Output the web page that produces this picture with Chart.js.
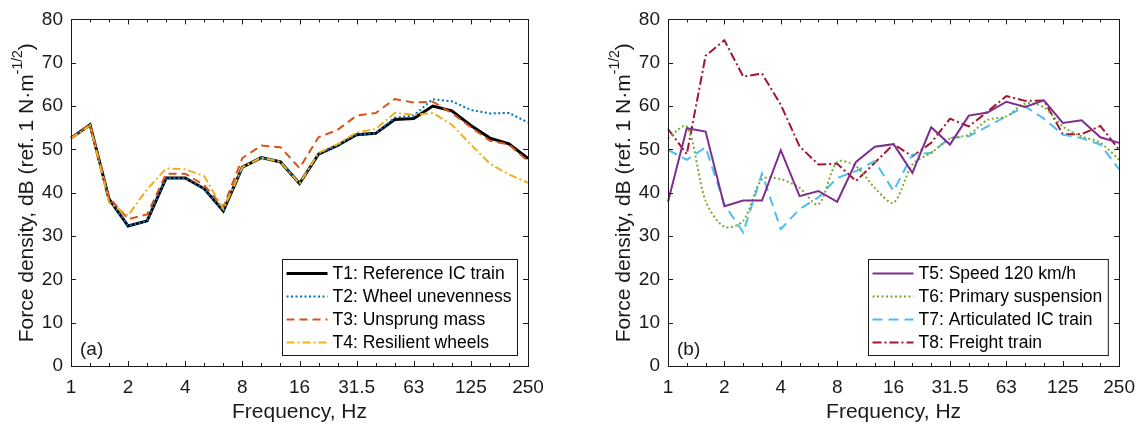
<!DOCTYPE html>
<html>
<head>
<meta charset="utf-8">
<script src="https://cdn.jsdelivr.net/npm/chart.js@4/dist/chart.umd.min.js"></script>
<style>
  body { margin: 0; background: #fff; }
  .panel { position: absolute; top: 0; height: 427px; }
</style>
</head>
<body>
<div class="panel" style="left:0;width:572px"><canvas id="chartA" width="572" height="427"></canvas></div>
<div class="panel" style="left:572px;width:573px"><canvas id="chartB" width="573" height="427"></canvas></div>
<script>
// one-third octave band centres, Hz
var bands = ['1','1.25','1.6','2','2.5','3.15','4','5','6.3','8','10','12.5','16','20','25','31.5','40','50','63','80','100','125','160','200','250'];
var tickLabels = ['1','2','4','8','16','31.5','63','125','250'];

// panel (a)
var t1 = [52.6,55.7,38.5,32.3,33.5,43.4,43.4,40.9,35.8,45.9,48.1,47.1,42.1,48.9,50.9,53.4,53.7,56.9,57.1,60.0,58.9,55.5,52.6,51.3,47.9];
var t2 = [52.6,55.7,38.5,32.3,33.5,43.4,43.4,40.9,35.8,45.9,48.1,47.1,42.1,48.9,50.9,53.4,53.7,57.3,57.8,61.6,61.1,59.1,58.3,58.4,56.2];
var t3 = [52.6,55.8,38.9,33.9,35.0,44.4,44.4,41.7,36.7,48.0,50.9,50.5,45.7,52.8,54.5,57.8,58.4,61.6,60.8,61.0,58.4,55.1,52.0,51.1,47.3];
var t4 = [52.5,55.5,37.7,34.8,40.8,45.6,45.4,43.8,36.2,45.9,48.1,47.1,42.1,49.2,51.2,53.9,54.7,58.4,58.0,58.4,55.7,51.1,46.7,44.2,42.3];

// panel (b)
var t5 = [37.9,54.9,54.1,36.9,38.2,38.2,49.8,39.2,40.4,37.9,47.1,50.6,51.2,44.6,55.1,51.1,57.8,58.5,61.0,59.8,61.3,56.1,56.7,52.8,51.5];
var t6 = [52.6,55.3,38.1,32.1,33.5,43.1,43.1,41.1,37.3,47.1,46.1,41.1,37.7,46.5,49.2,52.5,53.4,56.8,57.6,60.6,59.7,55.3,53.0,51.5,47.6];
var t7 = [49.9,47.6,50.5,37.3,30.8,44.4,31.6,36.2,38.9,43.4,45.0,47.3,40.4,48.8,49.2,52.6,53.0,55.3,57.6,59.9,57.1,53.4,52.6,51.1,45.4];
var t8 = [54.7,48.9,71.6,75.2,66.8,67.5,60.3,50.7,46.5,46.7,42.7,46.9,51.2,48.4,51.5,57.1,55.3,58.7,62.3,61.2,61.3,53.5,53.5,55.4,49.9];

var FONT = '"Liberation Sans", Arial, Helvetica, sans-serif';
var INK = '#1a1a1a';

// box, inward ticks, y title with superscript, panel letter, legend
var framePlugin = {
  id: 'frame',
  afterDraw: function (chart) {
    var ctx = chart.ctx;
    var a = chart.chartArea;
    var xs = chart.scales.x, ys = chart.scales.y;
    var opt = chart.options.plugins.frame;
    ctx.save();
    ctx.strokeStyle = INK;
    ctx.lineWidth = 1;
    ctx.beginPath();
    for (var i = 0; i < bands.length; i++) {
      var px = Math.round(xs.getPixelForValue(i)) + 0.5;
      var len = (i % 3 === 0) ? 5 : 3;
      ctx.moveTo(px, a.bottom); ctx.lineTo(px, a.bottom - len);
      ctx.moveTo(px, a.top); ctx.lineTo(px, a.top + len);
    }
    for (var v = 0; v <= 80; v += 10) {
      var py = Math.round(ys.getPixelForValue(v)) + 0.5;
      ctx.moveTo(a.left, py); ctx.lineTo(a.left + 5, py);
      ctx.moveTo(a.right, py); ctx.lineTo(a.right - 5, py);
    }
    ctx.stroke();
    ctx.strokeRect(Math.round(a.left) + 0.5, Math.round(a.top) + 0.5, Math.round(a.right - a.left), Math.round(a.bottom - a.top));

    // y title
    ctx.fillStyle = INK;
    ctx.translate(a.left - opt.titleGap, (a.top + a.bottom) / 2);
    ctx.rotate(-Math.PI / 2);
    var main = 'Force density, dB (ref. 1 N\u00b7m';
    var sup = '-1/2';
    var tail = ')';
    ctx.font = '21px ' + FONT;
    var w1 = ctx.measureText(main).width, w3 = ctx.measureText(tail).width;
    ctx.font = '14px ' + FONT;
    var w2 = ctx.measureText(sup).width;
    var x0 = -(w1 + w2 + w3) / 2;
    ctx.textBaseline = 'middle';
    ctx.textAlign = 'left';
    ctx.font = '21px ' + FONT;
    ctx.fillText(main, x0, 0);
    ctx.font = '14px ' + FONT;
    ctx.fillText(sup, x0 + w1, -9);
    ctx.font = '21px ' + FONT;
    ctx.fillText(tail, x0 + w1 + w2, 0);
    ctx.setTransform(1, 0, 0, 1, 0, 0);

    // panel letter
    ctx.font = '19px ' + FONT;
    ctx.textBaseline = 'middle';
    ctx.fillText(opt.letter, a.left + 9, a.bottom - 16);

    // legend
    var ds = chart.data.datasets;
    ctx.font = '17.5px ' + FONT;
    var tw = 0;
    ds.forEach(function (d) { tw = Math.max(tw, ctx.measureText(d.label).width); });
    var bw = tw + 56, bh = 96;
    var bx = Math.round(a.right - 11 - bw) + 0.5, by = Math.round(a.bottom - 11 - bh) + 0.5;
    ctx.fillStyle = '#fff';
    ctx.fillRect(bx, by, bw, bh);
    ctx.strokeStyle = INK;
    ctx.strokeRect(bx, by, bw, bh);
    ds.forEach(function (d, k) {
      var ry = by + 14 + k * 23;
      ctx.save();
      ctx.strokeStyle = d.borderColor;
      ctx.lineWidth = d.borderWidth;
      ctx.setLineDash(d.borderDash || []);
      ctx.beginPath();
      ctx.moveTo(bx + 4, ry); ctx.lineTo(bx + 45, ry);
      ctx.stroke();
      ctx.restore();
      ctx.fillStyle = '#000';
      ctx.fillText(d.label, bx + 50, ry + 1);
    });
    ctx.restore();
  }
};

function makeChart(id, sets, letter, yWidth, padRight) {
  return new Chart(document.getElementById(id), {
    type: 'line',
    data: { labels: bands, datasets: sets },
    options: {
      responsive: false,
      animation: false,
      devicePixelRatio: 1,
      layout: { padding: { top: 17, right: padRight, bottom: 0, left: 0 } },
      elements: { point: { radius: 0 }, line: { tension: 0 } },
      plugins: {
        legend: { display: false },
        tooltip: { enabled: false },
        frame: { letter: letter, titleGap: 44 }
      },
      scales: {
        x: {
          type: 'category',
          offset: false,
          grid: { display: false, drawTicks: false },
          border: { display: false },
          ticks: {
            autoSkip: false, maxRotation: 0, padding: 10,
            color: INK, font: { family: FONT, size: 19 },
            callback: function (v, i) { return i % 3 === 0 ? tickLabels[i / 3] : ''; }
          },
          title: { display: true, text: 'Frequency, Hz', color: INK, font: { family: FONT, size: 21 }, padding: { top: 0, bottom: 2 } },
          afterFit: function (s) { s.height = 61; }
        },
        y: {
          min: 0, max: 80,
          grid: { display: false, drawTicks: false },
          border: { display: false },
          ticks: { stepSize: 10, padding: 8, color: INK, font: { family: FONT, size: 19 } },
          afterFit: function (s) { s.width = yWidth; }
        }
      }
    },
    plugins: [framePlugin]
  });
}

makeChart('chartA', [
  { label: 'T1: Reference IC train', data: t1, borderColor: '#000000', borderWidth: 3, order: 3 },
  { label: 'T2: Wheel unevenness', data: t2, borderColor: '#0072BD', borderWidth: 2, borderDash: [2, 2.5], order: 2 },
  { label: 'T3: Unsprung mass', data: t3, borderColor: '#D95319', borderWidth: 2, borderDash: [8, 5], order: 1 },
  { label: 'T4: Resilient wheels', data: t4, borderColor: '#EDB120', borderWidth: 2, borderDash: [8, 3, 2, 3], order: 0 }
], '(a)', 71, 44);

makeChart('chartB', [
  { label: 'T5: Speed 120 km/h', data: t5, borderColor: '#7E2F8E', borderWidth: 2 },
  { label: 'T6: Primary suspension', data: t6, borderColor: '#77AC30', borderWidth: 2, borderDash: [2, 2.5], tension: 0.3 },
  { label: 'T7: Articulated IC train', data: t7, borderColor: '#4DBEEE', borderWidth: 2, borderDash: [10, 6] },
  { label: 'T8: Freight train', data: t8, borderColor: '#A2142F', borderWidth: 2, borderDash: [9, 3, 2, 3] }
], '(b)', 96, 19);
</script>
</body>
</html>
